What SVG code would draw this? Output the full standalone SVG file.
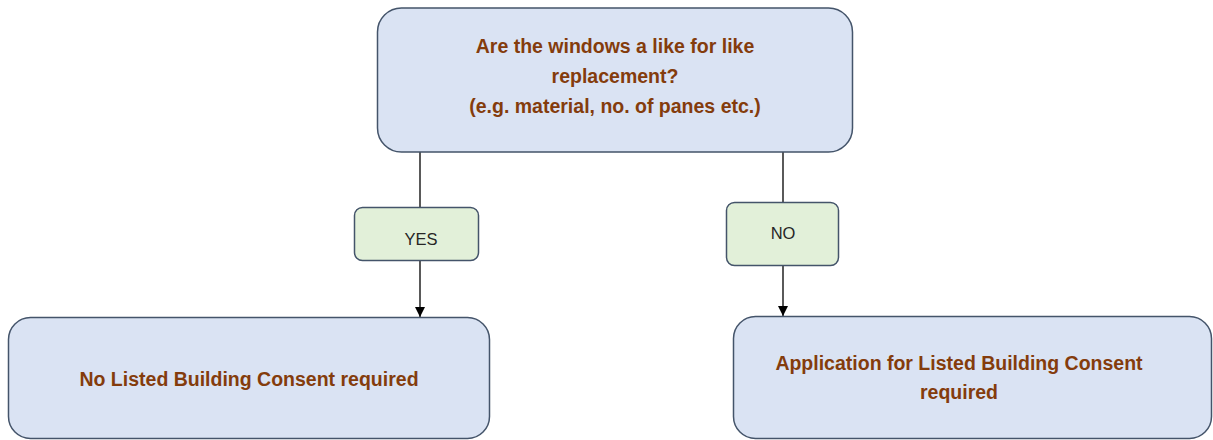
<svg xmlns="http://www.w3.org/2000/svg" width="1213" height="440" viewBox="0 0 1213 440">
<defs>
<marker id="arr" viewBox="0 0 10 10" refX="10" refY="5" markerWidth="10" markerHeight="10" markerUnits="userSpaceOnUse" orient="auto">
<path d="M0,0 L10,5 L0,10 z" fill="#000"/>
</marker>
<style>
.box{fill:#DAE3F3;stroke:#44546A;stroke-width:1.5}
.lbl{fill:#E2F0D9;stroke:#44546A;stroke-width:1.5}
.t{font-family:"Liberation Sans",Arial,sans-serif;font-weight:bold;font-size:19.5px;fill:#843C0C;text-anchor:middle}
.s{font-family:"Liberation Sans",Arial,sans-serif;font-size:16.5px;fill:#262626;text-anchor:middle}
.c{stroke:#000;stroke-width:1.3;fill:none}
</style>
</defs>
<rect width="1213" height="440" fill="#fff"/>
<g id="connectors">
<line class="c" x1="420" y1="152" x2="420" y2="207"/>
<line class="c" x1="420" y1="260" x2="420" y2="317" marker-end="url(#arr)"/>
<line class="c" x1="783" y1="152" x2="783" y2="202"/>
<line class="c" x1="783" y1="266" x2="783" y2="316" marker-end="url(#arr)"/>
</g>
<g id="question">
<rect class="box" x="377.5" y="8" width="475" height="144" rx="24"/>
<text class="t" x="615" y="53">Are the windows a like for like</text>
<text class="t" x="615" y="83">replacement?</text>
<text class="t" x="615" y="113">(e.g. material, no. of panes etc.)</text>
</g>
<g id="yes">
<rect class="lbl" x="354.5" y="207.5" width="124" height="53" rx="8"/>
<text class="s" x="421" y="245">YES</text>
</g>
<g id="no">
<rect class="lbl" x="726.5" y="202.5" width="112" height="63" rx="8"/>
<text class="s" x="783" y="239">NO</text>
</g>
<g id="no-consent">
<rect class="box" x="8.5" y="317.5" width="481" height="121" rx="22"/>
<text class="t" x="249" y="386">No Listed Building Consent required</text>
</g>
<g id="application">
<rect class="box" x="733.5" y="316.5" width="478" height="122" rx="22"/>
<text class="t" x="959" y="370">Application for Listed Building Consent</text>
<text class="t" x="959" y="399">required</text>
</g>
</svg>
